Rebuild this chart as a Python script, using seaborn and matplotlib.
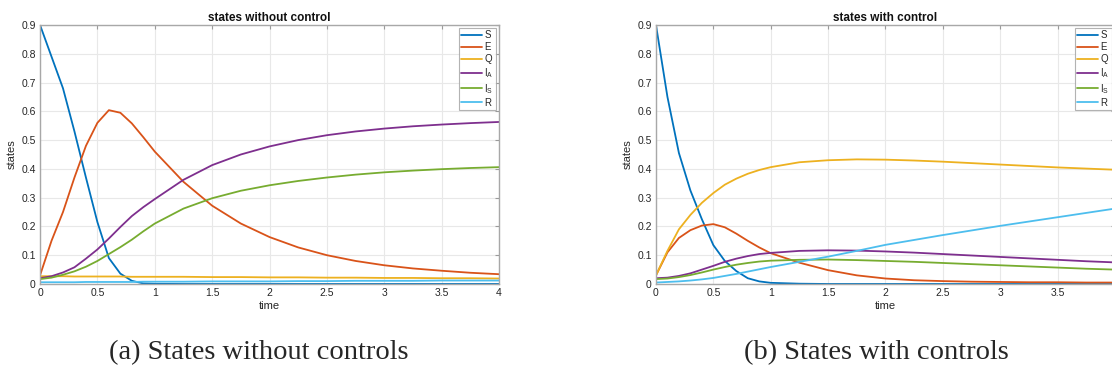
import matplotlib
matplotlib.use("Agg")
import matplotlib.pyplot as plt
import seaborn as sns
import pandas as pd

# time grid
t = [0, 0.1, 0.2, 0.3, 0.4, 0.5, 0.6, 0.7, 0.8, 0.9, 1.0,
     1.25, 1.5, 1.75, 2.0, 2.25, 2.5, 2.75, 3.0, 3.25, 3.5, 3.75, 4.0]

# states without control
S_nc = [0.9, 0.79, 0.68, 0.53, 0.37, 0.215, 0.09, 0.036, 0.011, 0.002, 0.0005,
        0, 0, 0, 0, 0, 0, 0, 0, 0, 0, 0, 0]
E_nc = [0.03, 0.15, 0.25, 0.37, 0.48, 0.56, 0.604, 0.595, 0.558, 0.51, 0.46,
        0.355, 0.272, 0.21, 0.163, 0.127, 0.1, 0.08, 0.065, 0.054, 0.046, 0.039, 0.034]
Q_nc = [0.027, 0.027, 0.027, 0.026, 0.026, 0.026, 0.026, 0.026, 0.025, 0.025, 0.025,
        0.025, 0.024, 0.024, 0.023, 0.023, 0.022, 0.022, 0.021, 0.021, 0.020, 0.020, 0.019]
IA_nc = [0.02, 0.027, 0.04, 0.058, 0.088, 0.12, 0.158, 0.198, 0.236, 0.267, 0.295,
         0.362, 0.413, 0.45, 0.478, 0.5, 0.517, 0.53, 0.54, 0.548, 0.554, 0.559, 0.563]
IS_nc = [0.017, 0.022, 0.032, 0.044, 0.06, 0.08, 0.104, 0.128, 0.154, 0.183, 0.21,
         0.262, 0.298, 0.324, 0.343, 0.358, 0.37, 0.38, 0.388, 0.394, 0.399, 0.403, 0.406]
R_nc = [0.006, 0.006, 0.006, 0.006, 0.007, 0.007, 0.007, 0.007, 0.007, 0.008, 0.008,
        0.008, 0.009, 0.009, 0.009, 0.01, 0.01, 0.011, 0.011, 0.011, 0.012, 0.012, 0.012]

# states with control
S_c = [0.9, 0.65, 0.455, 0.325, 0.225, 0.135, 0.08, 0.045, 0.02, 0.009, 0.004,
       0.001, 0, 0, 0, 0, 0, 0, 0, 0, 0, 0, 0]
E_c = [0.03, 0.11, 0.16, 0.187, 0.203, 0.208, 0.197, 0.175, 0.15, 0.127, 0.107,
       0.074, 0.048, 0.03, 0.019, 0.013, 0.01, 0.008, 0.007, 0.006, 0.006, 0.005, 0.005]
Q_c = [0.03, 0.115, 0.19, 0.24, 0.282, 0.316, 0.345, 0.366, 0.383, 0.396, 0.406,
       0.423, 0.43, 0.433, 0.432, 0.429, 0.425, 0.42, 0.415, 0.41, 0.405, 0.401, 0.397]
IA_c = [0.02, 0.022, 0.028, 0.037, 0.05, 0.063, 0.077, 0.088, 0.097, 0.104, 0.108,
        0.115, 0.117, 0.116, 0.113, 0.109, 0.104, 0.099, 0.094, 0.089, 0.084, 0.079, 0.075]
IS_c = [0.017, 0.019, 0.024, 0.031, 0.04, 0.05, 0.059, 0.067, 0.073, 0.078, 0.081,
        0.084, 0.085, 0.083, 0.08, 0.077, 0.073, 0.069, 0.065, 0.061, 0.057, 0.053, 0.05]
R_c = [0.005, 0.007, 0.009, 0.012, 0.016, 0.021, 0.028, 0.035, 0.043, 0.051, 0.059,
       0.077, 0.095, 0.115, 0.136, 0.153, 0.17, 0.186, 0.202, 0.217, 0.232, 0.247, 0.262]

labels = ["S", "E", "Q", r"I$_\mathrm{A}$", r"I$_\mathrm{S}$", "R"]
colors = ["#0072BD", "#D95319", "#EDB120", "#7E2F8E", "#77AC30", "#4DBEEE"]
xticks = [0, 0.5, 1, 1.5, 2, 2.5, 3, 3.5, 4]
xticklabels = ["0", "0.5", "1", "1.5", "2", "2.5", "3", "3.5", "4"]
yticks = [0, 0.1, 0.2, 0.3, 0.4, 0.5, 0.6, 0.7, 0.8, 0.9]
yticklabels = ["0", "0.1", "0.2", "0.3", "0.4", "0.5", "0.6", "0.7", "0.8", "0.9"]

sns.set_style("white")
plt.rcParams["font.family"] = ["Liberation Sans", "DejaVu Sans"]
plt.rcParams["mathtext.fontset"] = "custom"
plt.rcParams["mathtext.rm"] = "Liberation Sans"

fig = plt.figure(figsize=(11.12, 3.79), dpi=100)
ax1 = fig.add_axes([0.036, 0.2507, 0.4128, 0.6834])
ax2 = fig.add_axes([0.5899, 0.2507, 0.4128, 0.6834])


def draw(ax, series, title):
    for vals, lab, col in zip(series, labels, colors):
        df = pd.DataFrame({"time": t, "states": vals})
        sns.lineplot(data=df, x="time", y="states", ax=ax, color=col,
                     label=lab, linewidth=1.3)
    ax.set_xlim(0, 4)
    ax.set_ylim(0, 0.9)
    ax.set_xticks(xticks)
    ax.set_xticklabels(xticklabels)
    ax.set_yticks(yticks)
    ax.set_yticklabels(yticklabels)
    ax.grid(True, color="#e8e8e8", linewidth=0.8)
    ax.tick_params(direction="in", length=3, labelsize=7.5, colors="#9a9a9a",
                   labelcolor="#262626", top=True, right=True, pad=3)
    for sp in ax.spines.values():
        sp.set_color("#a8a8a8")
        sp.set_linewidth(1.0)
    ax.set_title(title, fontsize=8.5, fontweight="bold", pad=3, color="#111111")
    ax.set_xlabel("time", fontsize=8, color="#262626", labelpad=2)
    ax.set_ylabel("states", fontsize=8, color="#262626", labelpad=3)
    leg = ax.legend(loc="upper right", fontsize=7, frameon=True, fancybox=False,
                    handlelength=2.2, handletextpad=0.2, borderpad=0.25,
                    labelspacing=0.2, borderaxespad=0.3)
    leg.get_frame().set_edgecolor("#a0a0a0")
    leg.get_frame().set_linewidth(0.8)


draw(ax1, [S_nc, E_nc, Q_nc, IA_nc, IS_nc, R_nc], "states without control")
draw(ax2, [S_c, E_c, Q_c, IA_c, IS_c, R_c], "states with control")

# the right panel is cut at the page edge, so its last tick label is not visible
ax2.get_xticklabels()[-1].set_visible(False)

fig.text(259 / 1112, 0.07, "(a) States without controls", ha="center", va="center",
         fontsize=20.5, family="Liberation Serif")
fig.text(876 / 1112, 0.07, "(b) States with controls", ha="center", va="center",
         fontsize=20.5, family="Liberation Serif")

fig.savefig("out.png", dpi=100)
